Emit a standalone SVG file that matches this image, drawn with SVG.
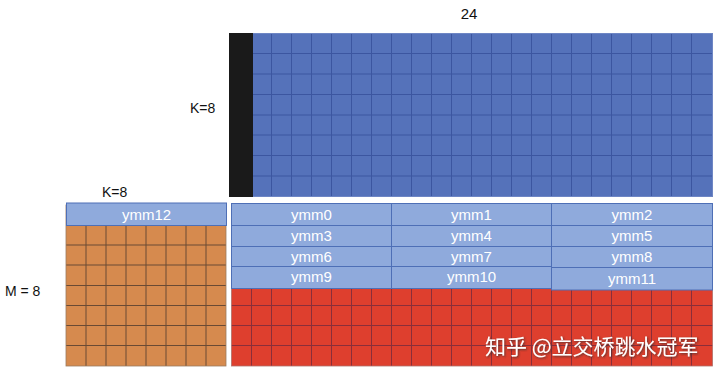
<svg xmlns="http://www.w3.org/2000/svg" width="720" height="380" viewBox="0 0 720 380">
<defs>
<style>
.lbl{font-family:"Liberation Sans","Noto Sans",sans-serif;fill:#111;}
.ymm{fill:#8FAADC;stroke:#4E6FB6;stroke-width:1;}
.yt{font-family:"Liberation Sans","Noto Sans",sans-serif;font-size:15px;fill:#fff;text-anchor:middle;}
.gb{stroke:#3C56A0;stroke-width:1;fill:none;}
.go{stroke:#6A4A34;stroke-width:1;fill:none;}
.gr{stroke:#8A2E3A;stroke-width:1;fill:none;}
.wm{font-family:"Noto Sans CJK SC",sans-serif;font-size:21px;fill:#fff;}
</style>
<filter id="sh" x="-10%" y="-30%" width="120%" height="160%">
<feDropShadow dx="1" dy="1" stdDeviation="0.8" flood-color="#333" flood-opacity="0.8"/>
</filter>
</defs>
<rect width="720" height="380" fill="#fff"/>

<g id="labels">
<text class="lbl" x="469" y="19" font-size="15" text-anchor="middle">24</text>
<text class="lbl" x="190" y="112.5" font-size="14">K=8</text>
<text class="lbl" x="102" y="196.5" font-size="14">K=8</text>
<text class="lbl" x="5" y="296" font-size="14">M = 8</text>
</g>

<g id="matrixB">
<rect x="229.5" y="33.5" width="483" height="163" fill="#5572BA"/>
<path class="gb" d="M271.5 33.5V196.5M291.5 33.5V196.5M311.5 33.5V196.5M331.5 33.5V196.5M351.5 33.5V196.5M371.5 33.5V196.5M391.5 33.5V196.5M411.5 33.5V196.5M431.5 33.5V196.5M451.5 33.5V196.5M471.5 33.5V196.5M491.5 33.5V196.5M511.5 33.5V196.5M531.5 33.5V196.5M551.5 33.5V196.5M571.5 33.5V196.5M591.5 33.5V196.5M611.5 33.5V196.5M631.5 33.5V196.5M651.5 33.5V196.5M671.5 33.5V196.5M691.5 33.5V196.5M253 53.5H712.5M253 74H712.5M253 94.5H712.5M253 115H712.5M253 135H712.5M253 155.5H712.5M253 176H712.5"/>
<rect x="229.5" y="33.5" width="483" height="163" fill="none" stroke="#6E86C4" stroke-width="1"/>
<rect x="229" y="33" width="24" height="164" fill="#1A1A1A"/>
</g>

<g id="matrixA">
<rect x="66" y="205" width="160" height="161" fill="#D68A4E"/>
<path class="go" d="M86 225V366M106 225V366M126 225V366M146 225V366M166 225V366M186 225V366M206 225V366M66 245H226M66 265H226M66 285.5H226M66 305.5H226M66 325.5H226M66 345.5H226"/>
<rect x="66" y="205" width="160" height="161" fill="none" stroke="#9C7A60" stroke-width="0.8"/>
<g id="ymm12">
<rect class="ymm" x="66.5" y="203" width="160" height="22.5"/>
<text class="yt" x="146.5" y="219.5">ymm12</text>
</g>
</g>

<g id="matrixC">
<rect x="231.5" y="206" width="481" height="160" fill="#DE3F2E"/>
<path class="gr" d="M251.5 206V366M271.5 206V366M291.5 206V366M311.5 206V366M331.5 206V366M351.5 206V366M371.5 206V366M391.5 206V366M411.5 206V366M431.5 206V366M451.5 206V366M471.5 206V366M491.5 206V366M511.5 206V366M531.5 206V366M551.5 206V366M571.5 206V366M591.5 206V366M611.5 206V366M631.5 206V366M651.5 206V366M671.5 206V366M691.5 206V366M231.5 305.5H712.5M231.5 325.5H712.5M231.5 345.5H712.5"/>
<rect x="231.5" y="206" width="481" height="160" fill="none" stroke="#B0706A" stroke-width="0.8"/>
</g>

<g id="ymm0"><rect class="ymm" x="231.5" y="203.5" width="160" height="22"/><text class="yt" x="311.5" y="219.5">ymm0</text></g>
<g id="ymm1"><rect class="ymm" x="391.5" y="203.5" width="160" height="22"/><text class="yt" x="471.5" y="219.5">ymm1</text></g>
<g id="ymm2"><rect class="ymm" x="551.5" y="203.5" width="161" height="22"/><text class="yt" x="632" y="219.5">ymm2</text></g>
<g id="ymm3"><rect class="ymm" x="231.5" y="225.5" width="160" height="21"/><text class="yt" x="311.5" y="241">ymm3</text></g>
<g id="ymm4"><rect class="ymm" x="391.5" y="225.5" width="160" height="21"/><text class="yt" x="471.5" y="241">ymm4</text></g>
<g id="ymm5"><rect class="ymm" x="551.5" y="225.5" width="161" height="21"/><text class="yt" x="632" y="241">ymm5</text></g>
<g id="ymm6"><rect class="ymm" x="231.5" y="246.5" width="160" height="20"/><text class="yt" x="311.5" y="261.5">ymm6</text></g>
<g id="ymm7"><rect class="ymm" x="391.5" y="246.5" width="160" height="20"/><text class="yt" x="471.5" y="261.5">ymm7</text></g>
<g id="ymm8"><rect class="ymm" x="551.5" y="246.5" width="161" height="21"/><text class="yt" x="632" y="262">ymm8</text></g>
<g id="ymm9"><rect class="ymm" x="231.5" y="266.5" width="160" height="22"/><text class="yt" x="311.5" y="282">ymm9</text></g>
<g id="ymm10"><rect class="ymm" x="391.5" y="266.5" width="160" height="22"/><text class="yt" x="471.5" y="282">ymm10</text></g>
<g id="ymm11"><rect class="ymm" x="551.5" y="267.5" width="161" height="22.5"/><text class="yt" x="632" y="284">ymm11</text></g>

<g id="connectors"></g>

<g id="watermark">
<text class="wm" x="485" y="354" filter="url(#sh)">知乎 @立交桥跳水冠军</text>
</g>
</svg>
